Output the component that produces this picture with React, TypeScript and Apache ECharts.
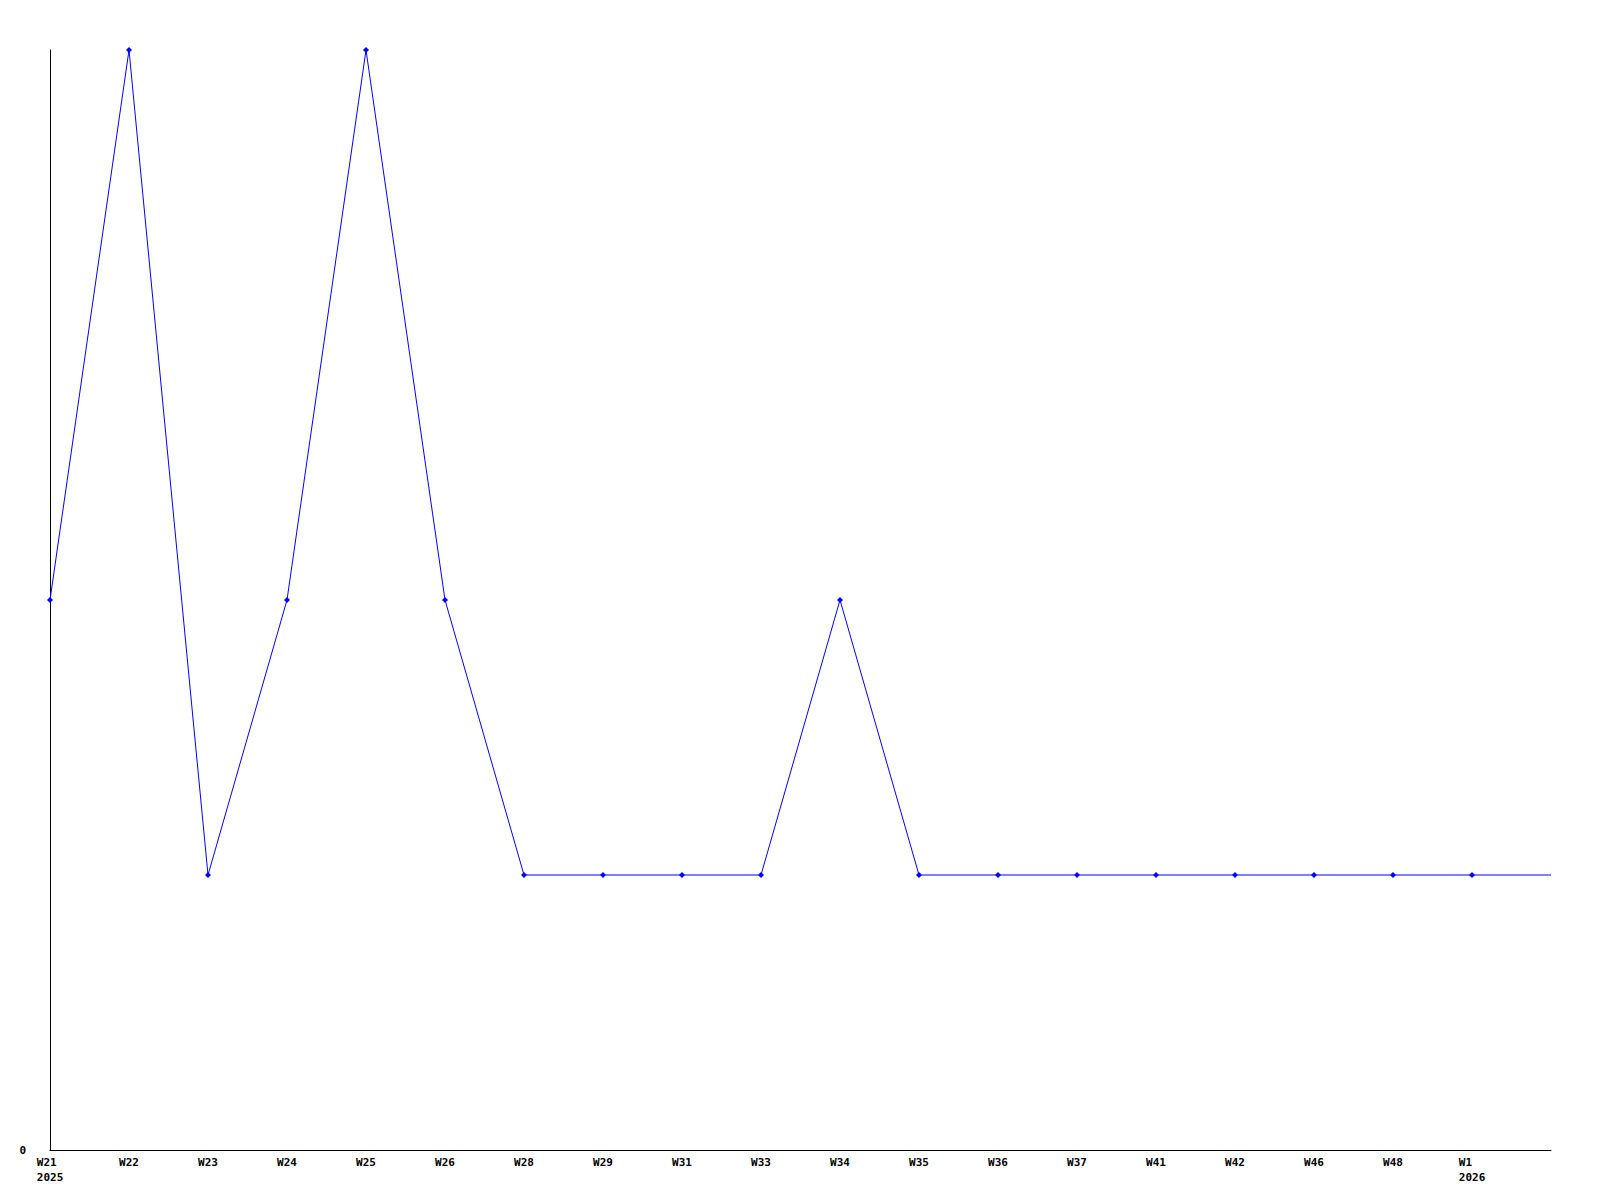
import React, { useEffect, useRef } from "react";
import * as echarts from "echarts";

const weeks = ["W21", "W22", "W23", "W24", "W25", "W26", "W28", "W29", "W31", "W33", "W34", "W35", "W36", "W37", "W41", "W42", "W46", "W48", "W1", ""];
const years: Record<string, string> = { W21: "2025", W1: "2026" };
const counts = [2, 4, 1, 2, 4, 2, 1, 1, 1, 1, 2, 1, 1, 1, 1, 1, 1, 1, 1, 1];
const yTicks = [0];

export default function App() {
  const ref = useRef<HTMLDivElement>(null);
  useEffect(() => {
    if (!ref.current) return;
    const chart = echarts.init(ref.current, null, { renderer: "svg" });
    const font = { fontFamily: "DejaVu Sans Mono", fontWeight: "bold" as const, fontSize: 11, color: "#000" };
    chart.setOption({
      animation: false,
      backgroundColor: "#fff",
      grid: { left: 50, top: 50, right: 49, bottom: 50, containLabel: false },
      xAxis: {
        type: "category",
        data: weeks,
        boundaryGap: false,
        axisLine: { lineStyle: { color: "#000", width: 1 } },
        axisTick: { show: false },
        splitLine: { show: false },
        axisLabel: {
          ...font,
          interval: 0,
          margin: 5,
          lineHeight: 15,
          formatter: (v: string) => (years[v] ? `{a|${v}}\n{a|${years[v]}}` : v),
          rich: { a: { ...font, align: "left", lineHeight: 15 } },
        },
      },
      yAxis: {
        type: "value",
        min: 0,
        max: 4,
        interval: 4,
        axisLine: { show: true, lineStyle: { color: "#000", width: 1 } },
        axisTick: { show: false },
        splitLine: { show: false },
        axisLabel: {
          ...font,
          margin: 24,
          formatter: (v: number) => (yTicks.includes(v) ? String(v) : ""),
        },
      },
      series: [
        {
          type: "line",
          data: counts.map((v, i) => (weeks[i] === "" ? { value: v, symbolSize: 0 } : v)),
          symbol: "diamond",
          symbolSize: 6,
          showAllSymbol: true,
          lineStyle: { color: "#0000ff", width: 1 },
          itemStyle: { color: "#0000ff", borderWidth: 0 },
        },
      ],
    });
    return () => chart.dispose();
  }, []);
  return <div ref={ref} style={{ position: "absolute", left: 0, top: 0, width: 1600, height: 1200 }} />;
}
